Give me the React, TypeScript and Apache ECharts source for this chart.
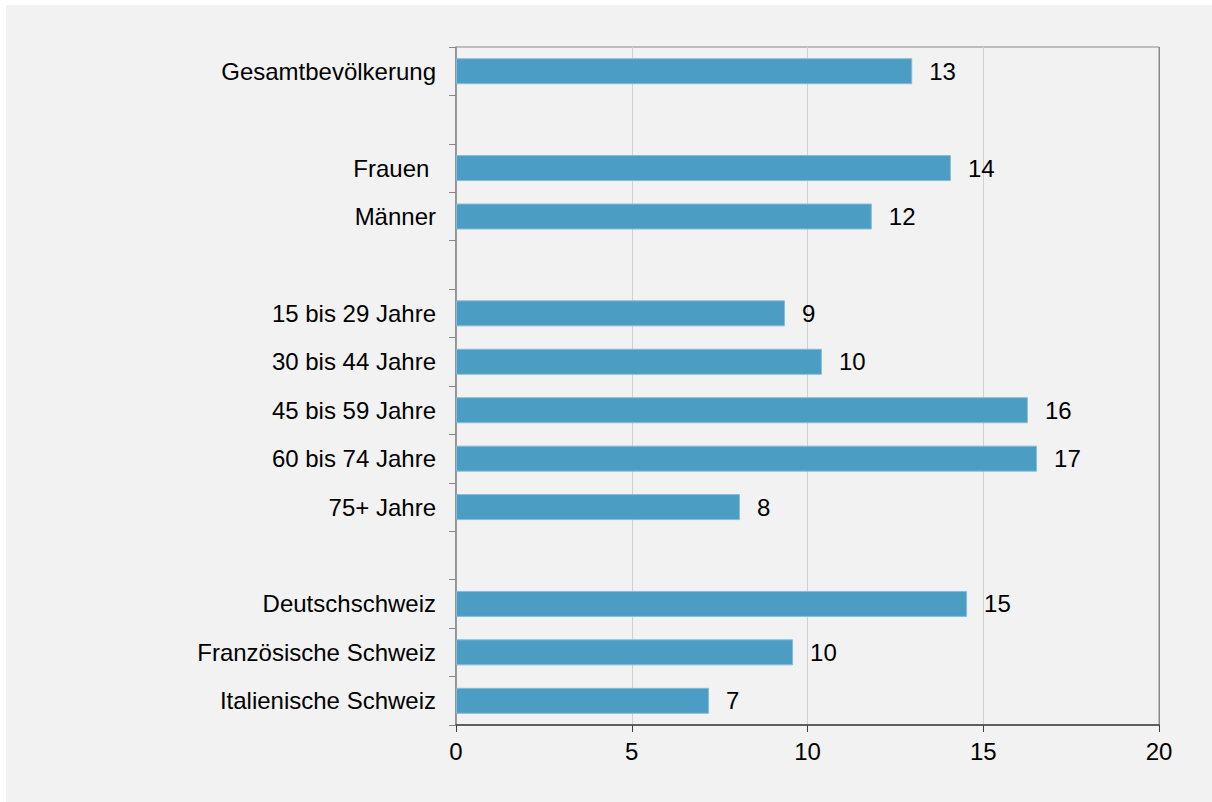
import React, { useEffect, useRef } from "react";
import * as echarts from "echarts";

const categories = [
  "Gesamtbevölkerung",
  " ",
  "Frauen ",
  "Männer",
  "  ",
  "15 bis 29 Jahre",
  "30 bis 44 Jahre",
  "45 bis 59 Jahre",
  "60 bis 74 Jahre",
  "75+ Jahre",
  "   ",
  "Deutschschweiz",
  "Französische Schweiz",
  "Italienische Schweiz",
];

const values: (number | null)[] = [
  12.98, null, 14.08, 11.83, null, 9.36, 10.41, 16.27, 16.53, 8.08, null, 14.54, 9.59, 7.2,
];

const xTicks = [0, 5, 10, 15, 20];

const FONT = '"Liberation Sans", Arial, sans-serif';

export default function App() {
  const ref = useRef<HTMLDivElement>(null);
  useEffect(() => {
    if (!ref.current) return;
    const chart = echarts.init(ref.current, undefined, { renderer: "svg" });
    chart.setOption({
      animation: false,
      backgroundColor: "#f2f2f2",
      textStyle: { fontFamily: FONT },
      grid: {
        left: 450,
        top: 42,
        right: 53,
        bottom: 77,
        show: true,
        borderColor: "#888888",
        borderWidth: 1,
        backgroundColor: "transparent",
      },
      xAxis: {
        type: "value",
        min: xTicks[0],
        max: xTicks[xTicks.length - 1],
        interval: 5,
        axisLine: { show: true, lineStyle: { color: "#404040", width: 1.5 } },
        axisTick: { show: true, length: 7, lineStyle: { color: "#404040" } },
        axisLabel: { color: "#000", fontSize: 24, fontFamily: FONT, margin: 14 },
        splitLine: {
          show: true,
          lineStyle: { color: ["#d0d0d0", "#d0d0d0", "#d0d0d0", "#d0d0d0", "#888888"], width: 1 },
        },
      },
      yAxis: {
        type: "category",
        inverse: true,
        data: categories,
        axisLine: { show: true, lineStyle: { color: "#888888", width: 1.5 } },
        axisTick: { show: true, length: 7, alignWithLabel: false, lineStyle: { color: "#888888" } },
        axisLabel: { color: "#000", fontSize: 24, fontFamily: FONT, margin: 20, interval: 0 },
        splitLine: { show: false },
      },
      series: [
        {
          type: "bar",
          data: values,
          barWidth: 26,
          itemStyle: { color: "#4c9dc3", borderColor: "#86bcd8", borderWidth: 1 },
          label: {
            show: true,
            position: "right",
            distance: 17,
            color: "#000",
            fontSize: 24,
            fontFamily: FONT,
            formatter: (p: any) => (p.value == null ? "" : String(Math.round(p.value))),
          },
        },
      ],
    });
    return () => chart.dispose();
  }, []);
  return (
    <div style={{ position: "fixed", left: 0, top: 0, width: 1212, height: 802, background: "#fff" }}>
      <div ref={ref} style={{ position: "absolute", left: 6, top: 5, width: 1206, height: 797 }} />
    </div>
  );
}
